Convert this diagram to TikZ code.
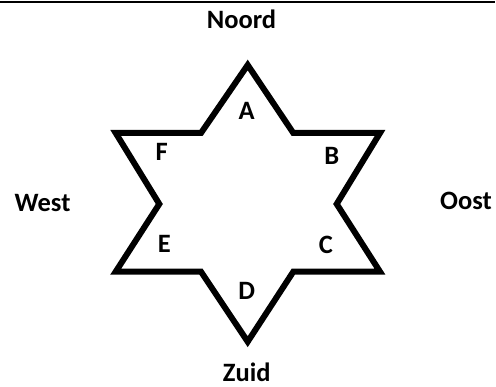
\documentclass[tikz,border=0pt]{standalone}
\usepackage{fontspec}
\setmainfont{Carlito}
\begin{document}
\begin{tikzpicture}[x=1pt,y=-1pt,
  lbl/.style={font=\fontsize{26.5}{30}\selectfont\bfseries, inner sep=0pt, anchor=base},
  dir/.style={font=\fontsize{26.5}{30}\selectfont\bfseries, inner sep=0pt, anchor=base}]
\useasboundingbox (0,0) rectangle (496,387);
\fill[white] (0,0) rectangle (496,387);
\coordinate (tl) at (0,2);
\coordinate (tr) at (495,2);
\draw[line width=2pt] (tl) -- (tr);
% star vertices
\coordinate (p1) at (247.7,65);
\coordinate (p2) at (293.3,133);
\coordinate (p3) at (380,133);
\coordinate (p4) at (336.7,204);
\coordinate (p5) at (380,271.7);
\coordinate (p6) at (293.3,271.7);
\coordinate (p7) at (247.7,341.7);
\coordinate (p8) at (201,271.7);
\coordinate (p9) at (115.7,271.7);
\coordinate (p10) at (159.3,204);
\coordinate (p11) at (115.7,133);
\coordinate (p12) at (201,133);
\draw[line width=6pt, line join=miter] (p1) -- (p2) -- (p3) -- (p4) -- (p5) -- (p6) -- (p7) -- (p8) -- (p9) -- (p10) -- (p11) -- (p12) -- cycle;
\node[lbl] (A) at (246.7,120) {A};
\node[lbl] (B) at (331.7,165) {B};
\node[lbl] (C) at (326,254) {C};
\node[lbl] (D) at (246.7,300) {D};
\node[lbl] (E) at (164.3,253) {E};
\node[lbl] (F) at (161.7,161) {F};
\node[dir] (N) at (241.5,28.3) {Noord};
\node[dir] (O) at (466,210) {Oost};
\node[dir] (W) at (42.5,211.7) {West};
\node[dir] (Z) at (246.7,381.5) {Zuid};
\end{tikzpicture}
\end{document}
